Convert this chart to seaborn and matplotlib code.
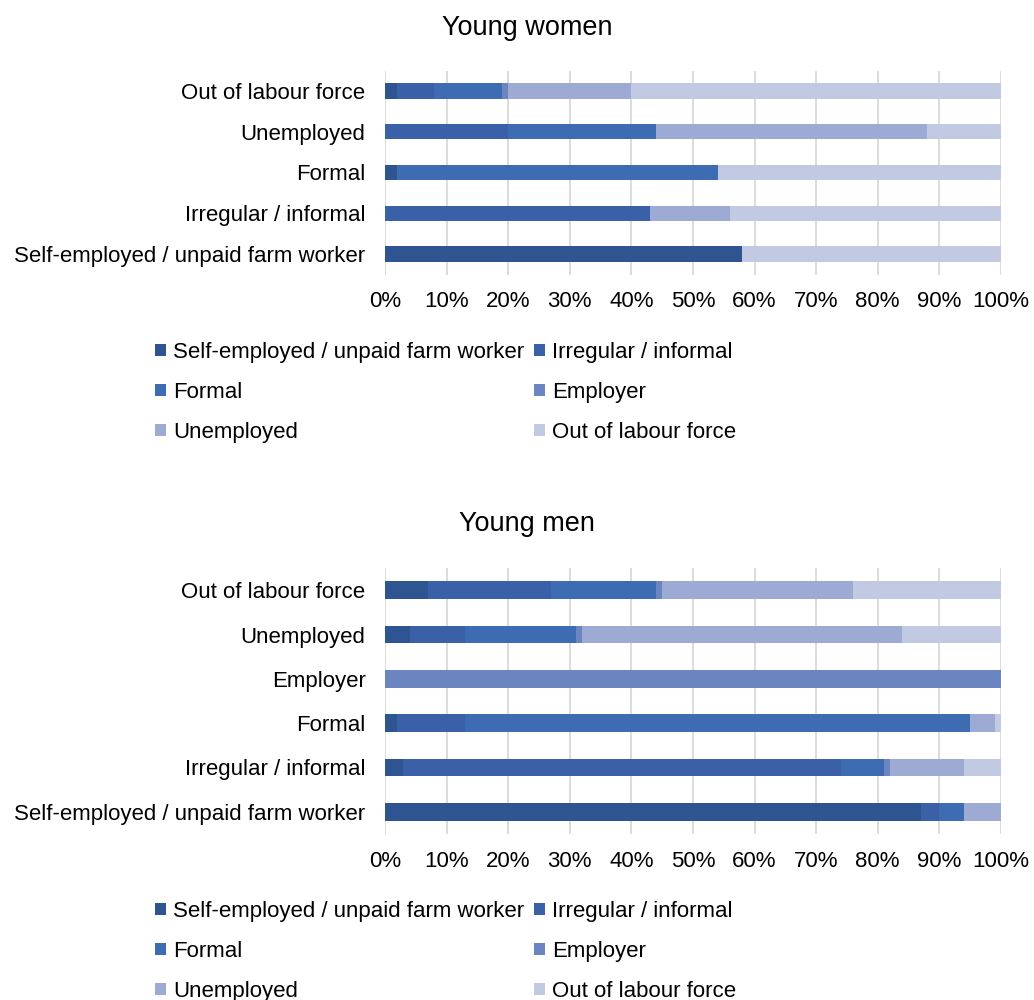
import numpy as np
import pandas as pd
import matplotlib
matplotlib.use('Agg')
import matplotlib.pyplot as plt
import seaborn as sns
from matplotlib.patches import Patch
from matplotlib.ticker import MultipleLocator, PercentFormatter

sns.set_theme(style='white')
plt.rcParams['font.family'] = ['Liberation Sans', 'DejaVu Sans']
plt.rcParams['text.color'] = '#000000'
plt.rcParams['xtick.color'] = '#000000'
plt.rcParams['ytick.color'] = '#000000'

series = ["Self-employed / unpaid farm worker", "Irregular / informal", "Formal",
          "Employer", "Unemployed", "Out of labour force"]
colors = ["#2E5591", "#3A60A7", "#3D6CB2", "#6B85C1", "#9DAAD3", "#C2C9E2"]

women_cats = ["Out of labour force", "Unemployed", "Formal", "Irregular / informal",
              "Self-employed / unpaid farm worker"]
women_self = [2, 0, 2, 0, 58]
women_irreg = [6, 20, 0, 43, 0]
women_formal = [11, 24, 52, 0, 0]
women_employer = [1, 0, 0, 0, 0]
women_unemp = [20, 44, 0, 13, 0]
women_out = [60, 12, 46, 44, 42]

men_cats = ["Out of labour force", "Unemployed", "Employer", "Formal", "Irregular / informal",
            "Self-employed / unpaid farm worker"]
men_self = [7, 4, 0, 2, 3, 87]
men_irreg = [20, 9, 0, 11, 71, 3]
men_formal = [17, 18, 0, 82, 7, 4]
men_employer = [1, 1, 100, 0, 1, 0]
men_unemp = [31, 52, 0, 4, 12, 6]
men_out = [24, 16, 0, 1, 6, 0]

FS = 16
TFS = 19.5

fig = plt.figure(figsize=(10.34, 10), dpi=100)


def draw(ax, cats, values, width):
    cum = np.cumsum(np.array(values, dtype=float), axis=0)
    for i in range(len(series) - 1, -1, -1):
        df = pd.DataFrame({'cat': cats, 'v': cum[i]})
        sns.barplot(data=df, x='v', y='cat', order=cats, orient='h', color=colors[i],
                    width=width, ax=ax, linewidth=0, saturation=1, errorbar=None)
    ax.set_xlim(0, 100)
    ax.xaxis.set_major_locator(MultipleLocator(10))
    ax.xaxis.set_major_formatter(PercentFormatter(100, decimals=0))
    ax.grid(axis='x', color='#D9D9D9', lw=1.3)
    ax.grid(axis='y', visible=False)
    ax.set_axisbelow(True)
    for s in ax.spines.values():
        s.set_visible(False)
    ax.set_xlabel('')
    ax.set_ylabel('')
    ax.tick_params(axis='y', length=0, pad=14, labelsize=FS, labelcolor='#000000')
    ax.tick_params(axis='x', length=0, pad=12, labelsize=FS, labelcolor='#000000')


def legend(ytop):
    handles = [Patch(facecolor=c, edgecolor='none', label=s) for c, s in zip(colors, series)]
    order = [0, 2, 4, 1, 3, 5]
    fig.legend(handles=[handles[i] for i in order], loc='upper left',
               bbox_to_anchor=(0.15, ytop), ncol=2, frameon=False, fontsize=FS,
               handlelength=0.5, handleheight=0.5, handletextpad=0.3,
               columnspacing=0.45, labelspacing=0.85, borderpad=0, borderaxespad=0,
               labelcolor='#000000')


ax1 = fig.add_axes([0.3723, 0.7255, 0.5957, 0.204])
draw(ax1, women_cats, [women_self, women_irreg, women_formal, women_employer, women_unemp, women_out], 0.38)
fig.text(0.5097, 0.972, "Young women", ha='center', va='center', fontsize=TFS)
legend(0.658)

ax2 = fig.add_axes([0.3723, 0.166, 0.5957, 0.266])
draw(ax2, men_cats, [men_self, men_irreg, men_formal, men_employer, men_unemp, men_out], 0.4)
fig.text(0.5097, 0.476, "Young men", ha='center', va='center', fontsize=TFS)
legend(0.099)

fig.savefig('out.png', dpi=100)
